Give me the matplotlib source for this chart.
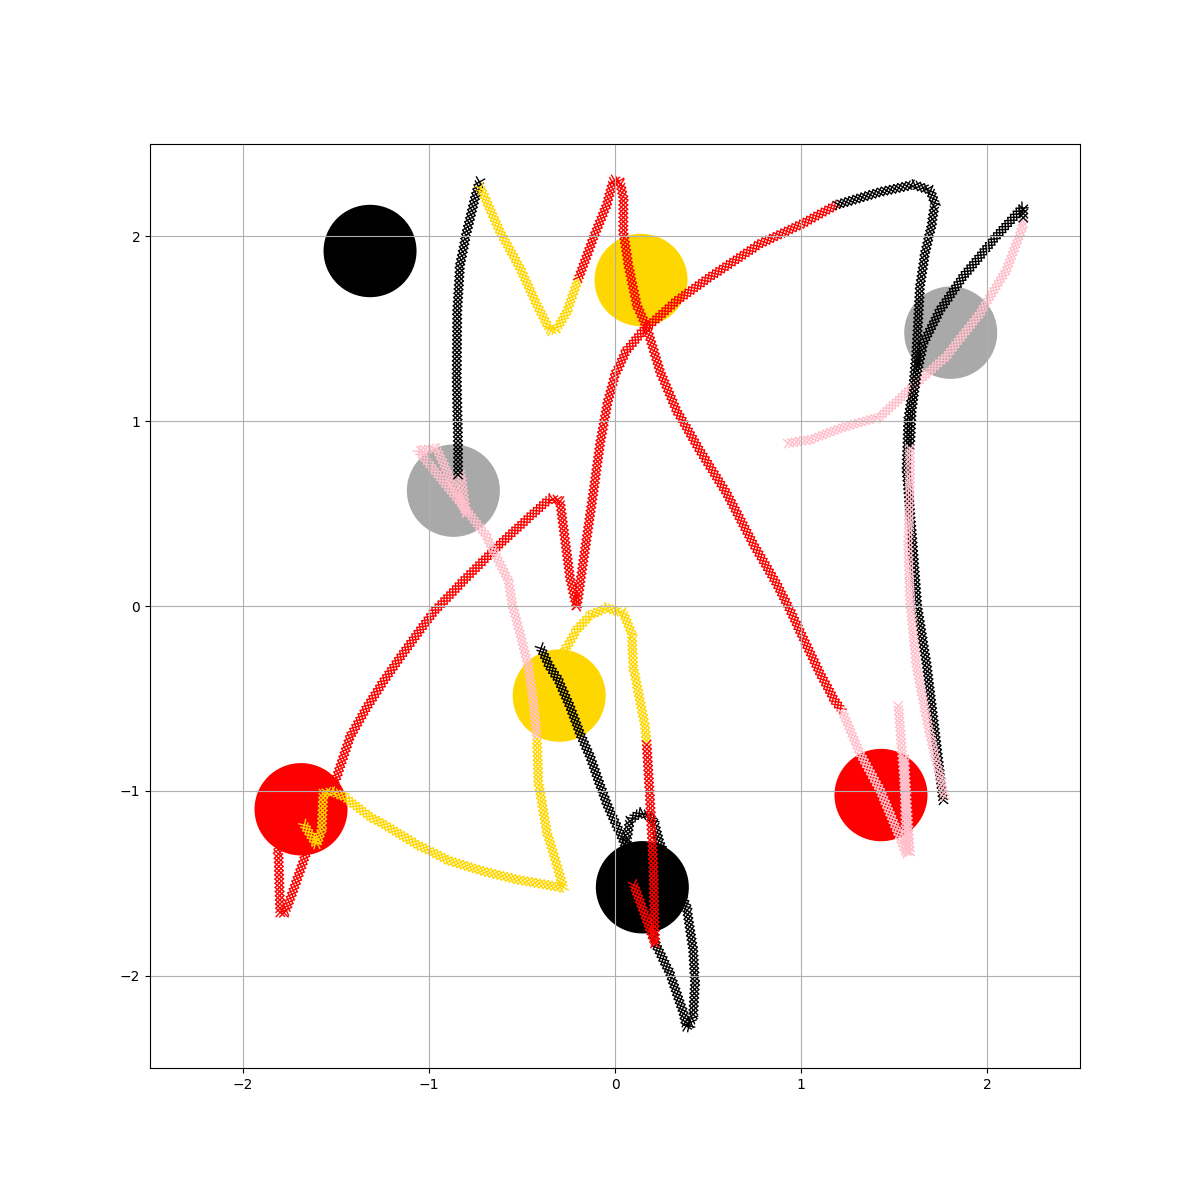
import numpy as np
import matplotlib
matplotlib.use("Agg")
import matplotlib.pyplot as plt
from matplotlib import patheffects

# goal discs (centres), one list per colour
gray_goals = [(1.805, 1.479), (-0.869, 0.624)]
black_goals = [(-1.317, 1.921), (0.147, -1.522)]
yellow_goals = [(0.14, 1.764), (-0.30, -0.485)]
red_goals = [(-1.688, -1.10), (1.43, -1.023)]
goal_radius = 0.25

# agent B: black diagonal into the lower black disc, then the loop
path_b_black = [(-0.403, -0.22), (-0.35, -0.33), (-0.305, -0.40), (-0.242, -0.545),
                (-0.188, -0.69), (-0.134, -0.815), (-0.08, -0.97), (-0.04, -1.08),
                (0.045, -1.27), (0.13, -1.55), (0.224, -1.84), (0.296, -1.99),
                (0.367, -2.2), (0.385, -2.28), (0.40, -2.27), (0.42, -2.22),
                (0.43, -2.04), (0.42, -1.86), (0.385, -1.63), (0.30, -1.42),
                (0.24, -1.28), (0.21, -1.17), (0.188, -1.14), (0.134, -1.12),
                (0.08, -1.16), (0.063, -1.27), (0.08, -1.40)]

# agent C: yellow hook out of the lower yellow disc, then red
path_c_yellow = [(-0.30, -0.34), (-0.269, -0.24), (-0.206, -0.13), (-0.134, -0.05),
                 (-0.045, -0.01), (0.045, -0.04), (0.09, -0.15), (0.098, -0.33),
                 (0.134, -0.51), (0.161, -0.65), (0.17, -0.74)]
path_c_red = [(0.17, -0.74), (0.188, -1.04), (0.206, -1.40), (0.215, -1.83),
              (0.16, -1.67), (0.098, -1.50)]

# agent D: red long arc from the left red disc, then black
path_d_red = [(-1.79, -1.22), (-1.81, -1.32), (-1.80, -1.66), (-1.774, -1.66),
              (-1.73, -1.54), (-1.667, -1.357), (-1.58, -1.13), (-1.496, -0.924),
              (-1.425, -0.71), (-1.335, -0.55), (-1.246, -0.41), (-1.156, -0.28),
              (-1.066, -0.155), (-0.977, -0.035), (-0.797, 0.155), (-0.618, 0.335),
              (-0.44, 0.50), (-0.35, 0.58), (-0.296, 0.57), (-0.278, 0.43),
              (-0.242, 0.155), (-0.206, -0.007), (-0.17, 0.245), (-0.117, 0.61),
              (-0.08, 0.88), (-0.04, 1.10), (0.0, 1.25), (0.06, 1.38), (0.152, 1.49),
              (0.33, 1.65), (0.51, 1.78), (0.78, 1.96), (1.01, 2.07), (1.19, 2.17)]
path_d_black = [(1.19, 2.17), (1.425, 2.24), (1.604, 2.28), (1.694, 2.25),
                (1.72, 2.18), (1.70, 2.05), (1.667, 1.91), (1.64, 1.73),
                (1.63, 1.55), (1.62, 1.37), (1.604, 1.19), (1.577, 1.01),
                (1.568, 0.74), (1.60, 0.335), (1.625, 0.0), (1.676, -0.32),
                (1.72, -0.68), (1.765, -1.06)]

# agent E: yellow zigzag in the left red disc, then pink up to the left gray disc
path_e_yellow = [(-1.676, -1.176), (-1.604, -1.293), (-1.577, -1.21), (-1.568, -1.013),
                 (-1.523, -1.005), (-1.46, -1.03), (-1.317, -1.14), (-1.246, -1.18),
                 (-1.066, -1.29), (-0.887, -1.38), (-0.708, -1.435), (-0.528, -1.48),
                 (-0.278, -1.525), (-0.313, -1.40), (-0.367, -1.22), (-0.412, -0.95),
                 (-0.42, -0.71)]
path_e_pink = [(-0.42, -0.71), (-0.44, -0.51), (-0.466, -0.33), (-0.51, -0.15),
               (-0.55, 0.0), (-0.574, 0.14), (-0.699, 0.39), (-0.80, 0.52),
               (-1.057, 0.84), (-0.96, 0.855), (-0.80, 0.50), (-0.83, 0.72)]

# agent A: black up from the left gray disc, yellow V, red, pink
path_a_black = [(-0.844, 0.70), (-0.844, 0.88), (-0.851, 1.24), (-0.848, 1.60),
                (-0.833, 1.845), (-0.797, 2.025), (-0.753, 2.206), (-0.726, 2.305)]
path_a_yellow = [(-0.726, 2.27), (-0.618, 2.025), (-0.51, 1.827), (-0.42, 1.63),
                 (-0.349, 1.49), (-0.313, 1.50), (-0.26, 1.59), (-0.197, 1.77)]
path_a_red = [(-0.197, 1.77), (-0.117, 1.99), (-0.045, 2.17), (-0.009, 2.305),
              (0.027, 2.296), (0.045, 2.206), (0.045, 2.025), (0.072, 1.845),
              (0.117, 1.63), (0.17, 1.51), (0.242, 1.27), (0.33, 1.06),
              (0.457, 0.84), (0.60, 0.61), (0.744, 0.335), (0.869, 0.12),
              (0.94, -0.02), (1.01, -0.17), (1.10, -0.36), (1.18, -0.51),
              (1.219, -0.563)]
path_a_pink = [(1.219, -0.563), (1.317, -0.797), (1.425, -0.996), (1.514, -1.21),
               (1.565, -1.34), (1.555, -0.82), (1.585, -1.34), (1.523, -0.53)]

# agent R: pink arc, black back down, pink down to the right
path_r_pink1 = [(0.92, 0.88), (1.05, 0.90), (1.227, 0.967), (1.425, 1.024),
                (1.604, 1.19), (1.78, 1.35), (1.96, 1.58), (2.105, 1.82),
                (2.186, 2.035), (2.195, 2.09)]
path_r_black = [(2.195, 2.09), (2.195, 2.16), (2.05, 2.0), (1.87, 1.78),
                (1.747, 1.60), (1.657, 1.42), (1.62, 1.24), (1.595, 1.06),
                (1.586, 0.86)]
path_r_pink2 = [(1.586, 0.86), (1.586, 0.70), (1.577, 0.335), (1.586, 0.04),
                (1.62, -0.32), (1.69, -0.68), (1.774, -1.04)]


def x_marks(spacing=3.0):
    # crosses along the path, like dense 'x' markers
    return [patheffects.TickedStroke(spacing=spacing, angle=a, length=1.41)
            for a in (45, 135, -45, -135)]


def draw_path(ax, pts, color):
    pts = np.array(pts)
    ax.plot(pts[:, 0], pts[:, 1], color=color, lw=1.0, zorder=1,
            path_effects=x_marks())


def draw_goals(ax, goals, color):
    for cx, cy in goals:
        ax.add_patch(plt.Circle((cx, cy), goal_radius, color=color, zorder=1, lw=0))


fig, ax = plt.subplots(figsize=(12, 12), dpi=100)

# drawing order decides what hides what
draw_goals(ax, gray_goals, 'darkgray')
draw_path(ax, path_c_yellow, 'gold')
draw_goals(ax, yellow_goals, 'gold')
draw_path(ax, path_b_black, 'black')
draw_goals(ax, black_goals, 'black')
draw_path(ax, path_c_red, 'red')
draw_path(ax, path_d_red, 'red')
draw_path(ax, path_d_black, 'black')
draw_goals(ax, red_goals, 'red')
draw_path(ax, path_e_yellow, 'gold')
draw_path(ax, path_e_pink, 'pink')
draw_path(ax, path_a_black, 'black')
draw_path(ax, path_a_yellow, 'gold')
draw_path(ax, path_a_red, 'red')
draw_path(ax, path_a_pink, 'pink')
draw_path(ax, path_r_pink1, 'pink')
draw_path(ax, path_r_black, 'black')
draw_path(ax, path_r_pink2, 'pink')

ax.set_xlim(-2.5, 2.5)
ax.set_ylim(-2.5, 2.5)
ax.grid(True)

plt.savefig('out.png')
